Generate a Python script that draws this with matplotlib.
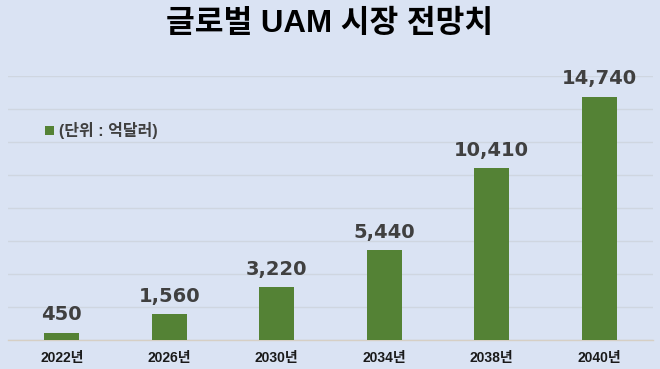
import matplotlib
matplotlib.use('Agg')
import matplotlib.pyplot as plt
import numpy as np

plt.rcParams['font.family'] = ['Liberation Sans', 'Noto Sans CJK KR', 'DejaVu Sans']

# donnees
years = ['2022년', '2026년', '2030년', '2034년', '2038년', '2040년']
values = [450, 1560, 3220, 5440, 10410, 14740]
value_labels = ['450', '1,560', '3,220', '5,440', '10,410', '14,740']

bg = '#dae3f3'
green = '#548235'

fig = plt.figure(figsize=(6.6, 3.69), dpi=100, facecolor=bg)
ax = fig.add_axes([8/660, 1-340/369, 645/660, (340-76)/369])
ax.set_facecolor(bg)

x = np.arange(len(years))
bars = ax.bar(x, values, width=0.33, color=green, zorder=3, label='(단위 : 억달러)')

for xi, v, lab in zip(x, values, value_labels):
    ax.annotate(lab, (xi, v), xytext=(0, 6), textcoords='offset points',
                ha='center', va='bottom', fontsize=14, fontweight='bold',
                color='#404040', family='DejaVu Sans')

ax.set_xlim(-0.5, len(years)-0.5)
ax.set_ylim(0, 16000)
ax.set_yticks(np.arange(0, 16001, 2000))
ax.yaxis.grid(True, color='#cfd6e0', linewidth=1, zorder=0)
ax.set_yticklabels([])
ax.tick_params(axis='y', length=0)
ax.tick_params(axis='x', length=0, pad=8)
ax.set_xticks(x)
ax.set_xticklabels(years, fontsize=10, fontweight='bold', color='#1a1a1a')
for s in ['top', 'right', 'left']:
    ax.spines[s].set_visible(False)
ax.spines['bottom'].set_color('#d6cfc4')
ax.spines['bottom'].set_linewidth(1)

leg = ax.legend(loc='upper left', bbox_to_anchor=(0.035, 0.88), frameon=False,
                prop={'size': 11.5, 'weight': 'bold'}, handlelength=0.55, handleheight=0.55,
                handletextpad=0.3)
for t in leg.get_texts():
    t.set_color('#404040')

fig.text(0.5, 1-24/369, '글로벌 UAM 시장 전망치', ha='center', va='center',
         fontsize=22.5, fontweight='bold', color='black')

fig.savefig('out.png', dpi=100, facecolor=bg)
